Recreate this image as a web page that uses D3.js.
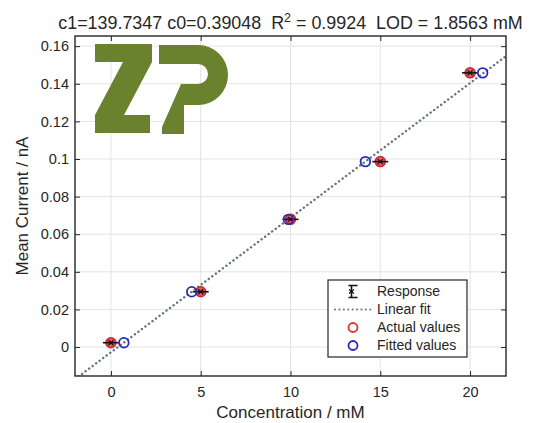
<!DOCTYPE html>
<head>
  <meta charset="utf-8">
  <script src="https://d3js.org/d3.v7.min.js"></script>
  <style>
    body { margin:0; background:#fff; }
    text { font-family: "Liberation Sans", Arial, sans-serif; fill:#262626; }
  </style>
</head>
<body>
<script>
  // data
  var concentration = [0, 5, 10, 15, 20];               // mM
  var meanCurrent   = [0.0023, 0.0294, 0.0679, 0.0986, 0.1458]; // nA
  var currentErr    = [0.0004, 0.0004, 0.0004, 0.0004, 0.0004];
  var fittedConc    = [0.72, 4.5, 9.88, 14.17, 20.7];
  var fitLine       = [[-2, -0.0171], [22, 0.1547]];
  var xTicks = [0, 5, 10, 15, 20];
  var yTicks = [0, 0.02, 0.04, 0.06, 0.08, 0.1, 0.12, 0.14, 0.16];
  var legendLabels = ["Response", "Linear fit", "Actual values", "Fitted values"];
  var titleParts = ["c1=139.7347 c0=0.39048  R", "2", " = 0.9924  LOD = 1.8563 mM"];

  var W = 536, H = 423;
  var margin = {top: 36, right: 30, bottom: 47, left: 75};
  var width = W - margin.left - margin.right,
      height = H - margin.top - margin.bottom;

  var svg = d3.select("body").append("svg")
    .attr("width", W).attr("height", H);

  var g = svg.append("g")
    .attr("transform", "translate(" + margin.left + "," + margin.top + ")");

  var x = d3.scaleLinear().domain([-2, 22]).range([0, width]);
  var y = d3.scaleLinear().domain([-0.0154, 0.1654]).range([height, 0]);

  g.append("clipPath").attr("id", "clip")
    .append("rect").attr("width", width).attr("height", height);

  // grid
  g.selectAll(".gx").data(xTicks).enter().append("line")
    .attr("x1", d => x(d)).attr("x2", d => x(d))
    .attr("y1", 0).attr("y2", height)
    .attr("stroke", "#e3e3e3").attr("stroke-width", 1);
  g.selectAll(".gy").data(yTicks).enter().append("line")
    .attr("y1", d => y(d)).attr("y2", d => y(d))
    .attr("x1", 0).attr("x2", width)
    .attr("stroke", "#e3e3e3").attr("stroke-width", 1);

  // linear fit
  g.append("path")
    .datum(fitLine)
    .attr("clip-path", "url(#clip)")
    .attr("d", d3.line().x(d => x(d[0])).y(d => y(d[1])))
    .attr("fill", "none")
    .attr("stroke", "#627878")
    .attr("stroke-width", 2.4)
    .attr("stroke-linecap", "round")
    .attr("stroke-dasharray", "0.1 4.3");

  var pts = concentration.map((c, i) => ({c: c, v: meanCurrent[i], e: currentErr[i], f: fittedConc[i]}));

  // actual values
  g.selectAll(".actual").data(pts).enter().append("circle")
    .attr("cx", d => x(d.c)).attr("cy", d => y(d.v)).attr("r", 5)
    .attr("fill", "rgba(210,55,55,0.8)")
    .attr("stroke", "#c8282e").attr("stroke-width", 1.5);

  // response error bars
  var eb = g.selectAll(".eb").data(pts).enter().append("g");
  eb.append("line")
    .attr("x1", d => x(d.c)).attr("x2", d => x(d.c))
    .attr("y1", d => y(d.v - d.e)).attr("y2", d => y(d.v + d.e))
    .attr("stroke", "#111").attr("stroke-width", 1.5);
  eb.append("line")
    .attr("x1", d => x(d.c) - 8).attr("x2", d => x(d.c) + 8)
    .attr("y1", d => y(d.v)).attr("y2", d => y(d.v))
    .attr("stroke", "#111").attr("stroke-width", 1.6);
  eb.append("path")
    .attr("d", d => { var cx = x(d.c), cy = y(d.v);
      return "M" + (cx - 2.5) + "," + (cy - 2.5) + "L" + (cx + 2.5) + "," + (cy + 2.5) +
             "M" + (cx - 2.5) + "," + (cy + 2.5) + "L" + (cx + 2.5) + "," + (cy - 2.5); })
    .attr("stroke", "#111").attr("stroke-width", 1.2);

  // fitted values
  g.selectAll(".fitted").data(pts).enter().append("circle")
    .attr("cx", d => x(d.f)).attr("cy", d => y(d.v)).attr("r", 4.8)
    .attr("fill", "none")
    .attr("stroke", "#2a2ab8").attr("stroke-width", 1.8);

  // axes, ticks inside
  var fmt = d => d3.format("")(+d.toFixed(2));
  g.append("g").attr("transform", "translate(0," + height + ")")
    .call(d3.axisBottom(x).tickValues(xTicks).tickSizeInner(-5).tickSizeOuter(0).tickPadding(11))
    .call(a => { a.select(".domain").remove(); a.selectAll("text").style("font-size", "14.5px").attr("fill", "#262626"); a.selectAll("line").attr("stroke", "#262626"); });
  g.append("g")
    .call(d3.axisTop(x).tickValues(xTicks).tickSizeInner(-5).tickSizeOuter(0).tickFormat(""))
    .call(a => { a.select(".domain").remove(); a.selectAll("line").attr("stroke", "#262626"); });
  g.append("g")
    .call(d3.axisLeft(y).tickValues(yTicks).tickSizeInner(-5).tickSizeOuter(0).tickPadding(6).tickFormat(fmt))
    .call(a => { a.select(".domain").remove(); a.selectAll("text").style("font-size", "14.5px").attr("fill", "#262626"); a.selectAll("line").attr("stroke", "#262626"); });
  g.append("g").attr("transform", "translate(" + width + ",0)")
    .call(d3.axisRight(y).tickValues(yTicks).tickSizeInner(-5).tickSizeOuter(0).tickFormat(""))
    .call(a => { a.select(".domain").remove(); a.selectAll("line").attr("stroke", "#262626"); });

  g.append("rect").attr("width", width).attr("height", height)
    .attr("fill", "none").attr("stroke", "#262626").attr("stroke-width", 1.4);

  // legend
  var lg = svg.append("g").attr("transform", "translate(328,280)");
  lg.append("rect").attr("width", 139).attr("height", 77)
    .attr("fill", "#fff").attr("stroke", "#262626").attr("stroke-width", 1.2);
  var ly = i => 11.5 + 18 * i;
  lg.selectAll("text").data(legendLabels).enter().append("text")
    .attr("x", 49).attr("y", (d, i) => ly(i)).attr("dy", "0.35em")
    .style("font-size", "14px").text(d => d);
  // response symbol
  lg.append("path")
    .attr("d", "M22," + (ly(0) - 6) + "V" + (ly(0) + 6) + "M19," + (ly(0) - 6) + "H28M19," + (ly(0) + 6) + "H28")
    .attr("stroke", "#111").attr("stroke-width", 1.6).attr("fill", "none")
    .attr("transform", "translate(1.5,0)");
  lg.append("path")
    .attr("d", "M21," + (ly(0) - 2) + "L26," + (ly(0) + 2) + "M21," + (ly(0) + 2) + "L26," + (ly(0) - 2))
    .attr("stroke", "#111").attr("stroke-width", 1.2);
  lg.append("line")
    .attr("x1", 7).attr("x2", 43).attr("y1", ly(1)).attr("y2", ly(1))
    .attr("stroke", "#627878").attr("stroke-width", 2)
    .attr("stroke-linecap", "round").attr("stroke-dasharray", "0.1 4.3");
  lg.append("circle").attr("cx", 25).attr("cy", ly(2)).attr("r", 4.5)
    .attr("fill", "none").attr("stroke", "#d03a3a").attr("stroke-width", 1.8);
  lg.append("circle").attr("cx", 25).attr("cy", ly(3)).attr("r", 4.5)
    .attr("fill", "none").attr("stroke", "#2a2ab8").attr("stroke-width", 1.8);

  // title
  var t = svg.append("text")
    .attr("x", margin.left + width / 2).attr("y", 29)
    .attr("text-anchor", "middle").style("font-size", "17.9px")
    .style("white-space", "pre");
  t.append("tspan").text(titleParts[0]);
  t.append("tspan").attr("dy", -7).style("font-size", "12.5px").text(titleParts[1]);
  t.append("tspan").attr("dy", 7).text(titleParts[2]);

  // axis labels
  svg.append("text")
    .attr("x", margin.left + width / 2).attr("y", 418)
    .attr("text-anchor", "middle").style("font-size", "17px")
    .text("Concentration / mM");
  svg.append("text")
    .attr("transform", "translate(28," + (margin.top + height / 2) + ") rotate(-90)")
    .attr("text-anchor", "middle").style("font-size", "17px")
    .text("Mean Current / nA");

  // ZP watermark
  var logo = svg.append("g").attr("fill", "#6a822e");
  logo.append("path")
    .attr("d", "M95,44 H152 V62 L124,115 H150 V133 H95 V115 L123,62 H95 Z");
  logo.append("path")
    .attr("d", "M159,45 H198 A30,30 0 0 1 198,105 H184 V134 H162 V127 L181,84 H198 A10,10 0 0 0 198,64 H159 Z")
    .attr("fill-rule", "evenodd");
</script>
</body>
